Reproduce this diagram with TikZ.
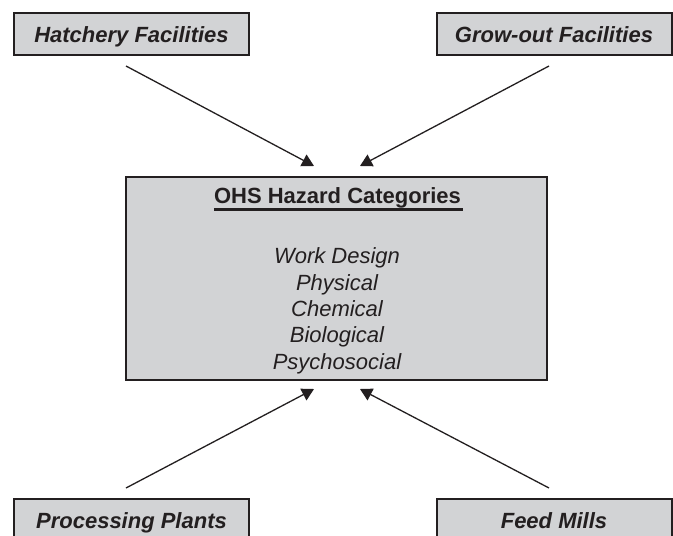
\documentclass[tikz,border=0pt]{standalone}
\usepackage{fontspec}
\setmainfont{Liberation Sans}
\usetikzlibrary{arrows.meta}
\definecolor{ink}{RGB}{35,31,32}
\definecolor{boxfill}{RGB}{210,211,213}
\begin{document}
\begin{tikzpicture}[x=1pt,y=-1pt,
  sitebox/.style={draw=ink, fill=boxfill, line width=2pt, minimum width=235pt,
    minimum height=42pt, inner sep=0pt, text height=17pt, text depth=0pt,
    font=\fontsize{22}{26}\selectfont\bfseries\itshape, text=ink},
  itemtext/.style={anchor=base, inner sep=0pt, text=ink,
    font=\fontsize{22}{26}\selectfont\itshape},
  feed/.style={draw=ink, line width=1.3pt, -{Triangle[length=12pt,width=13pt]}}]
\useasboundingbox (0,0) rectangle (673,536);
\fill[white] (0,0) rectangle (673,536);

% source facilities
\node[sitebox] (hatch) at (131.5,34) {Hatchery Facilities};
\node[sitebox] (grow)  at (554,34)   {Grow-out Facilities};
\node[sitebox] (proc)  at (131.5,520) {Processing Plants};
\node[sitebox] (mill)  at (554,520)   {Feed Mills};

% central hazard box
\node[draw=ink, fill=boxfill, line width=2pt, minimum width=421pt,
      minimum height=203pt, inner sep=0pt] (haz) at (336.5,278.5) {};
\node[itemtext, font=\fontsize{22}{26}\selectfont\bfseries] (title) at (337.5,203) {OHS Hazard Categories};
\draw[ink, line width=2.5pt] (title.base west) ++(0,6.5) -- ++(249,0);
\node[itemtext] (w1) at (337,263) {Work Design};
\node[itemtext] (w2) at (337,290) {Physical};
\node[itemtext] (w3) at (337,316) {Chemical};
\node[itemtext] (w4) at (337,342) {Biological};
\node[itemtext] (w5) at (337,369) {Psychosocial};

% connector end points
\coordinate (s1) at (126,66);  \coordinate (e1) at (314,166);
\coordinate (s2) at (549,66);  \coordinate (e2) at (360,166);
\coordinate (s3) at (126,488); \coordinate (e3) at (314,389);
\coordinate (s4) at (549,488); \coordinate (e4) at (360,389);

\draw[feed] (s1) -- (e1);
\draw[feed] (s2) -- (e2);
\draw[feed] (s3) -- (e3);
\draw[feed] (s4) -- (e4);
\end{tikzpicture}
\end{document}
